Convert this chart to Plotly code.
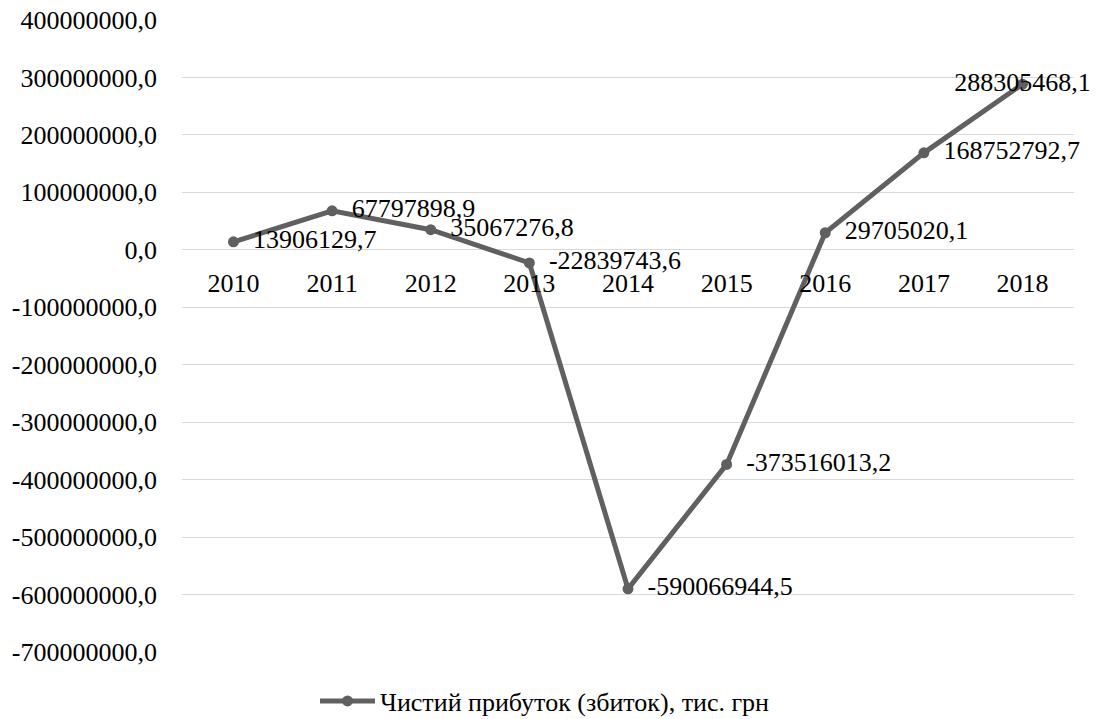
import plotly.graph_objects as go

years = ["2010", "2011", "2012", "2013", "2014", "2015", "2016", "2017", "2018"]
net_profit = [13906129.7, 67797898.9, 35067276.8, -22839743.6, -590066944.5,
              -373516013.2, 29705020.1, 168752792.7, 288305468.1]
label_text = ["13906129,7", "67797898,9", "35067276,8", "-22839743,6", "-590066944,5",
              "-373516013,2", "29705020,1", "168752792,7", "288305468,1"]
label_pos = ["middle right"] * 8 + ["middle center"]
series_name = "Чистий прибуток (збиток), тис. грн"

y_ticks = [400e6, 300e6, 200e6, 100e6, 0, -100e6, -200e6, -300e6, -400e6, -500e6, -600e6, -700e6]
y_tick_text = ["400000000,0", "300000000,0", "200000000,0", "100000000,0", "0,0",
               "-100000000,0", "-200000000,0", "-300000000,0", "-400000000,0",
               "-500000000,0", "-600000000,0", "-700000000,0"]

FONT = "Liberation Serif"
LINE = "#606060"

shown_text = [("\u00a0\u2009" + t) if p == "middle right" else t for t, p in zip(label_text, label_pos)]

fig = go.Figure()
fig.add_trace(go.Scatter(
    x=years, y=net_profit, name=series_name,
    mode="lines+markers+text",
    line=dict(color=LINE, width=5),
    marker=dict(color=LINE, size=11),
    text=shown_text, textposition=label_pos,
    textfont=dict(family=FONT, size=26, color="#000000"),
    cliponaxis=False,
))

# page body has an 8px margin, so the figure is sized to fit the window
W, H = 1091, 711
y_min, y_max = -700e6, 400e6
fig.update_layout(
    width=W, height=H,
    margin=dict(l=174, r=25, t=12, b=67),
    paper_bgcolor="white", plot_bgcolor="white",
    font=dict(family=FONT, size=26, color="#000000"),
    showlegend=True,
    legend=dict(orientation="h", xref="container", x=537 / W, xanchor="center",
                yref="container", y=18 / H, yanchor="middle",
                font=dict(family=FONT, size=26, color="#000000"), itemwidth=55),
    xaxis=dict(type="category", showgrid=False, showline=False, ticks="",
               anchor="free", position=(0 - y_min) / (y_max - y_min),
               ticklabelstandoff=15, zeroline=False, automargin=False),
    yaxis=dict(range=[y_min, y_max], tickvals=y_ticks, ticktext=y_tick_text,
               showgrid=True, gridcolor="#d9d9d9", gridwidth=1,
               zeroline=True, zerolinecolor="#d9d9d9", zerolinewidth=1,
               showline=False, ticks="", ticklabelstandoff=24, automargin=False,
               ticklabeloverflow="allow"),
)

fig.write_html("out.html")
